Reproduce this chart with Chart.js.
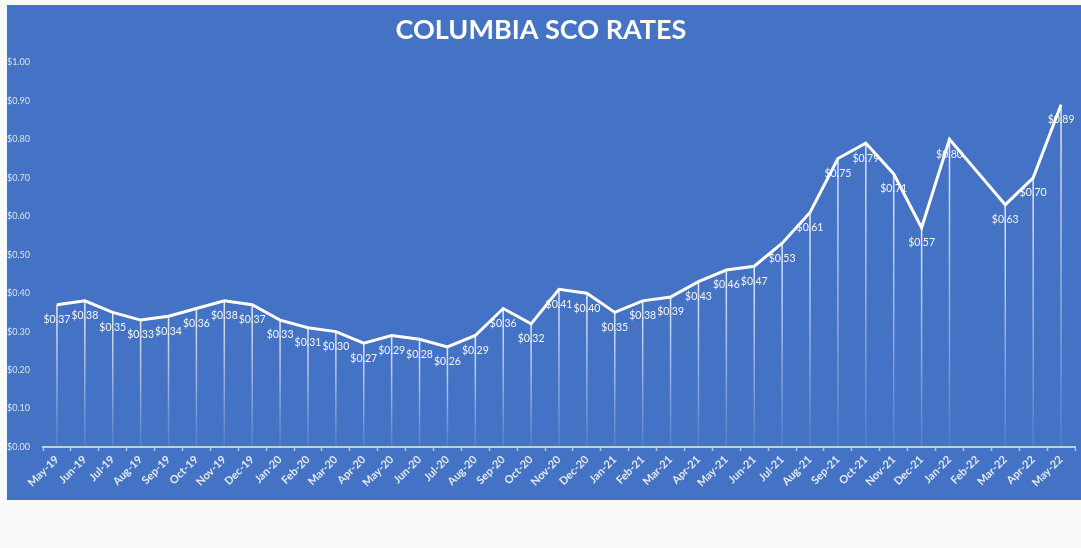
<!DOCTYPE html>
<html>
<head>
<meta charset="utf-8">
<script src="https://cdn.jsdelivr.net/npm/chart.js@4.4.1/dist/chart.umd.min.js"></script>
<style>
  html, body { margin: 0; padding: 0; background: #f9fafa; }
  #wrap { width: 1081px; height: 548px; position: relative; }
</style>
</head>
<body>
<div id="wrap"><canvas id="c" width="1081" height="548"></canvas></div>
<script>
const chartTitle = 'COLUMBIA SCO RATES';
const months = ['May-19','Jun-19','Jul-19','Aug-19','Sep-19','Oct-19','Nov-19','Dec-19',
  'Jan-20','Feb-20','Mar-20','Apr-20','May-20','Jun-20','Jul-20','Aug-20','Sep-20','Oct-20','Nov-20','Dec-20',
  'Jan-21','Feb-21','Mar-21','Apr-21','May-21','Jun-21','Jul-21','Aug-21','Sep-21','Oct-21','Nov-21','Dec-21',
  'Jan-22','Feb-22','Mar-22','Apr-22','May-22'];
const rates = [0.37,0.38,0.35,0.33,0.34,0.36,0.38,0.37,
  0.33,0.31,0.30,0.27,0.29,0.28,0.26,0.29,0.36,0.32,0.41,0.40,
  0.35,0.38,0.39,0.43,0.46,0.47,0.53,0.61,0.75,0.79,0.71,0.57,
  0.80,null,0.63,0.70,0.89];
const yTicks = [0,0.1,0.2,0.3,0.4,0.5,0.6,0.7,0.8,0.9,1.0];

const BLUE = '#4472c4';

const bgPlugin = {
  id: 'bg',
  beforeDraw(chart) {
    const ctx = chart.ctx;
    ctx.save();
    ctx.fillStyle = '#f9fafa';
    ctx.fillRect(0, 0, chart.width, chart.height);
    ctx.fillStyle = BLUE;
    ctx.fillRect(7, 5, chart.width - 7, 495);
    ctx.restore();
  }
};

const dropPlugin = {
  id: 'drops',
  beforeDatasetsDraw(chart) {
    const ctx = chart.ctx;
    const meta = chart.getDatasetMeta(0);
    const bottom = chart.scales.y.getPixelForValue(0);
    ctx.save();
    meta.data.forEach((pt, i) => {
      if (rates[i] == null) return;
      const g = ctx.createLinearGradient(0, pt.y, 0, bottom);
      g.addColorStop(0, 'rgba(255,255,255,0.85)');
      g.addColorStop(1, 'rgba(255,255,255,0.08)');
      ctx.strokeStyle = g;
      ctx.lineWidth = 1.5;
      ctx.beginPath();
      ctx.moveTo(pt.x, pt.y);
      ctx.lineTo(pt.x, bottom);
      ctx.stroke();
    });
    ctx.restore();
  },
  afterDatasetsDraw(chart) {
    const ctx = chart.ctx;
    const meta = chart.getDatasetMeta(0);
    ctx.save();
    ctx.fillStyle = 'rgba(255,255,255,0.95)';
    ctx.font = '10.5px Lato, "Open Sans", sans-serif';
    ctx.textAlign = 'center';
    ctx.textBaseline = 'middle';
    meta.data.forEach((pt, i) => {
      if (rates[i] == null) return;
      ctx.fillText('$' + rates[i].toFixed(2), pt.x, pt.y + 15);
    });
    ctx.restore();
  }
};

new Chart(document.getElementById('c'), {
  type: 'line',
  data: {
    labels: months,
    datasets: [{
      data: rates,
      borderColor: '#ffffff',
      borderWidth: 3,
      pointRadius: 0,
      pointHoverRadius: 0,
      tension: 0,
      spanGaps: true,
      fill: false
    }]
  },
  options: {
    responsive: false,
    animation: false,
    devicePixelRatio: 1,
    layout: { padding: { left: 7, right: 6, top: 0, bottom: 48 } },
    plugins: {
      legend: { display: false },
      tooltip: { enabled: false },
      title: {
        display: true,
        text: chartTitle,
        color: '#ffffff',
        font: { family: 'Lato, "Open Sans", sans-serif', size: 27, weight: 'bold', lineHeight: 1.2 },
        padding: { top: 14, bottom: 16 }
      }
    },
    scales: {
      x: {
        type: 'category',
        offset: true,
        grid: {
          display: true,
          offset: true,
          drawOnChartArea: false,
          drawTicks: true,
          tickLength: 4,
          tickWidth: 1.5,
          color: 'rgba(255,255,255,0.6)'
        },
        border: { display: true, color: 'rgba(255,255,255,0.65)', width: 2 },
        ticks: {
          color: 'rgba(255,255,255,0.85)',
          font: { family: 'Lato, "Open Sans", sans-serif', size: 11, weight: 'bold' },
          minRotation: 45,
          maxRotation: 45,
          autoSkip: false,
          padding: 2
        },
        afterFit(scale) { scale.height = 53; }
      },
      y: {
        min: 0,
        max: 1,
        afterBuildTicks(scale) { scale.ticks = yTicks.map(v => ({ value: v })); },
        grid: { display: false },
        border: { display: false },
        ticks: {
          color: 'rgba(255,255,255,0.8)',
          font: { family: 'Lato, "Open Sans", sans-serif', size: 9 },
          crossAlign: 'far',
          padding: 4,
          callback: v => '$' + Number(v).toFixed(2)
        },
        afterFit(scale) { scale.width = 36; }
      }
    }
  },
  plugins: [bgPlugin, dropPlugin]
});
</script>
</body>
</html>
